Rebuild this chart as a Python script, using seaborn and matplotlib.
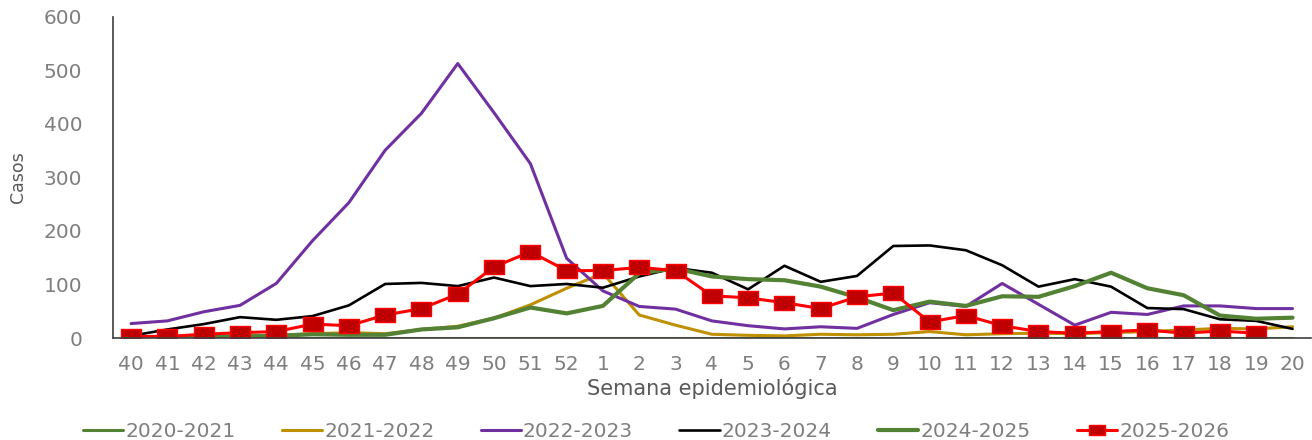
import numpy as np
import pandas as pd
import matplotlib
matplotlib.use("Agg")
import matplotlib.pyplot as plt
import seaborn as sns

sns.set_style("white")
plt.rcParams['font.family'] = ['DejaVu Sans']

# semanas epidemiológicas (40 a 52 y 1 a 20)
semanas = [str(s) for s in list(range(40, 53)) + list(range(1, 21))]

# casos por temporada
t2020 = [0] * 33
t2021 = [0, 1, 2, 4, 5, 8, 10, 8, 16, 22, 37, 62, 93, 121, 43, 24, 7, 5, 4, 7, 6,
         7, 12, 6, 8, 9, 8, 10, 12, 15, 18, 17, 21]
t2022 = [27, 32, 49, 61, 102, 182, 253, 351, 420, 513, 421, 326, 149, 88, 59, 54,
         32, 23, 17, 21, 18, 44, 66, 59, 102, 63, 24, 48, 44, 60, 60, 55, 55]
t2023 = [4, 16, 26, 39, 34, 41, 61, 101, 103, 97, 113, 97, 101, 94, 115, 131, 122,
         91, 135, 105, 116, 172, 173, 164, 136, 96, 110, 96, 56, 54, 35, 32, 17]
t2024 = [1, 1, 2, 3, 4, 7, 6, 6, 16, 20, 37, 57, 46, 60, 121, 130, 115, 110, 108,
         96, 76, 52, 68, 60, 78, 77, 97, 122, 93, 80, 42, 36, 38]
t2025 = [3, 3, 7, 10, 12, 26, 23, 43, 55, 82, 133, 161, 126, 126, 132, 126, 79, 75,
         66, 55, 77, 84, 30, 42, 23, 12, 9, 12, 15, 9, 13, 9, np.nan]

temporadas = ['2020-2021', '2021-2022', '2022-2023', '2023-2024', '2024-2025', '2025-2026']
valores = [t2020, t2021, t2022, t2023, t2024, t2025]
colores = ['#548235', '#BF9000', '#7030A0', '#000000', '#548235', '#FF0000']
grosores = [2.2, 2.2, 2.2, 1.9, 3.0, 2.2]

df = pd.DataFrame({'semana': semanas})
for t, v in zip(temporadas, valores):
    df[t] = v
df['pos'] = np.arange(len(semanas))

fig = plt.figure(figsize=(13.12, 4.4), dpi=100)
ax = fig.add_axes([0.0861, 0.2318, 0.9129, 0.7296])

# marcador rectangular (ancho) como en el original
rect = [(-1.45, -1), (1.45, -1), (1.45, 1), (-1.45, 1), (-1.45, -1)]

for t, c, lw in zip(temporadas, colores, grosores):
    if t == '2025-2026':
        sns.lineplot(data=df, x='pos', y=t, ax=ax, color=c, lw=lw, label=t,
                     marker=rect, markersize=14, markerfacecolor='#C00000',
                     markeredgecolor='#FF0000', markeredgewidth=1)
    else:
        sns.lineplot(data=df, x='pos', y=t, ax=ax, color=c, lw=lw, label=t)

ax.set_xlim(-0.5, len(semanas) - 0.5)
ax.set_ylim(0, 600)
ax.set_yticks(range(0, 601, 100))
ax.set_xticks(df['pos'])
ax.set_xticklabels(semanas)
ax.set_xticks(np.arange(-0.5, len(semanas), 1), minor=True)

sns.despine(ax=ax)
for s in ['left', 'bottom']:
    ax.spines[s].set_color('#404040')
    ax.spines[s].set_linewidth(1.2)

ax.tick_params(axis='x', which='major', length=0, pad=12, labelsize=14.5, labelcolor='#7F7F7F')
ax.tick_params(axis='x', which='minor', length=7, width=1.2, color='#404040', direction='out')
ax.tick_params(axis='y', length=9, width=1.2, color='#404040', direction='out',
               pad=13, labelsize=14.5, labelcolor='#7F7F7F')

ax.set_xlabel('Semana epidemiológica', fontsize=15, color='#595959', labelpad=3)
ax.set_ylabel('Casos', fontsize=12.5, color='#595959')
ax.yaxis.set_label_coords(-0.072, 0.5)

handles, labels = ax.get_legend_handles_labels()
ax.get_legend().remove()
fig.legend(handles, labels, loc='center', bbox_to_anchor=(0.5, 0.02), ncol=6,
           frameon=False, fontsize=14.5, labelcolor='#7F7F7F', handlelength=2.0,
           handletextpad=0.1, columnspacing=2.3, markerscale=0.8)

fig.savefig('out.png', dpi=100)
